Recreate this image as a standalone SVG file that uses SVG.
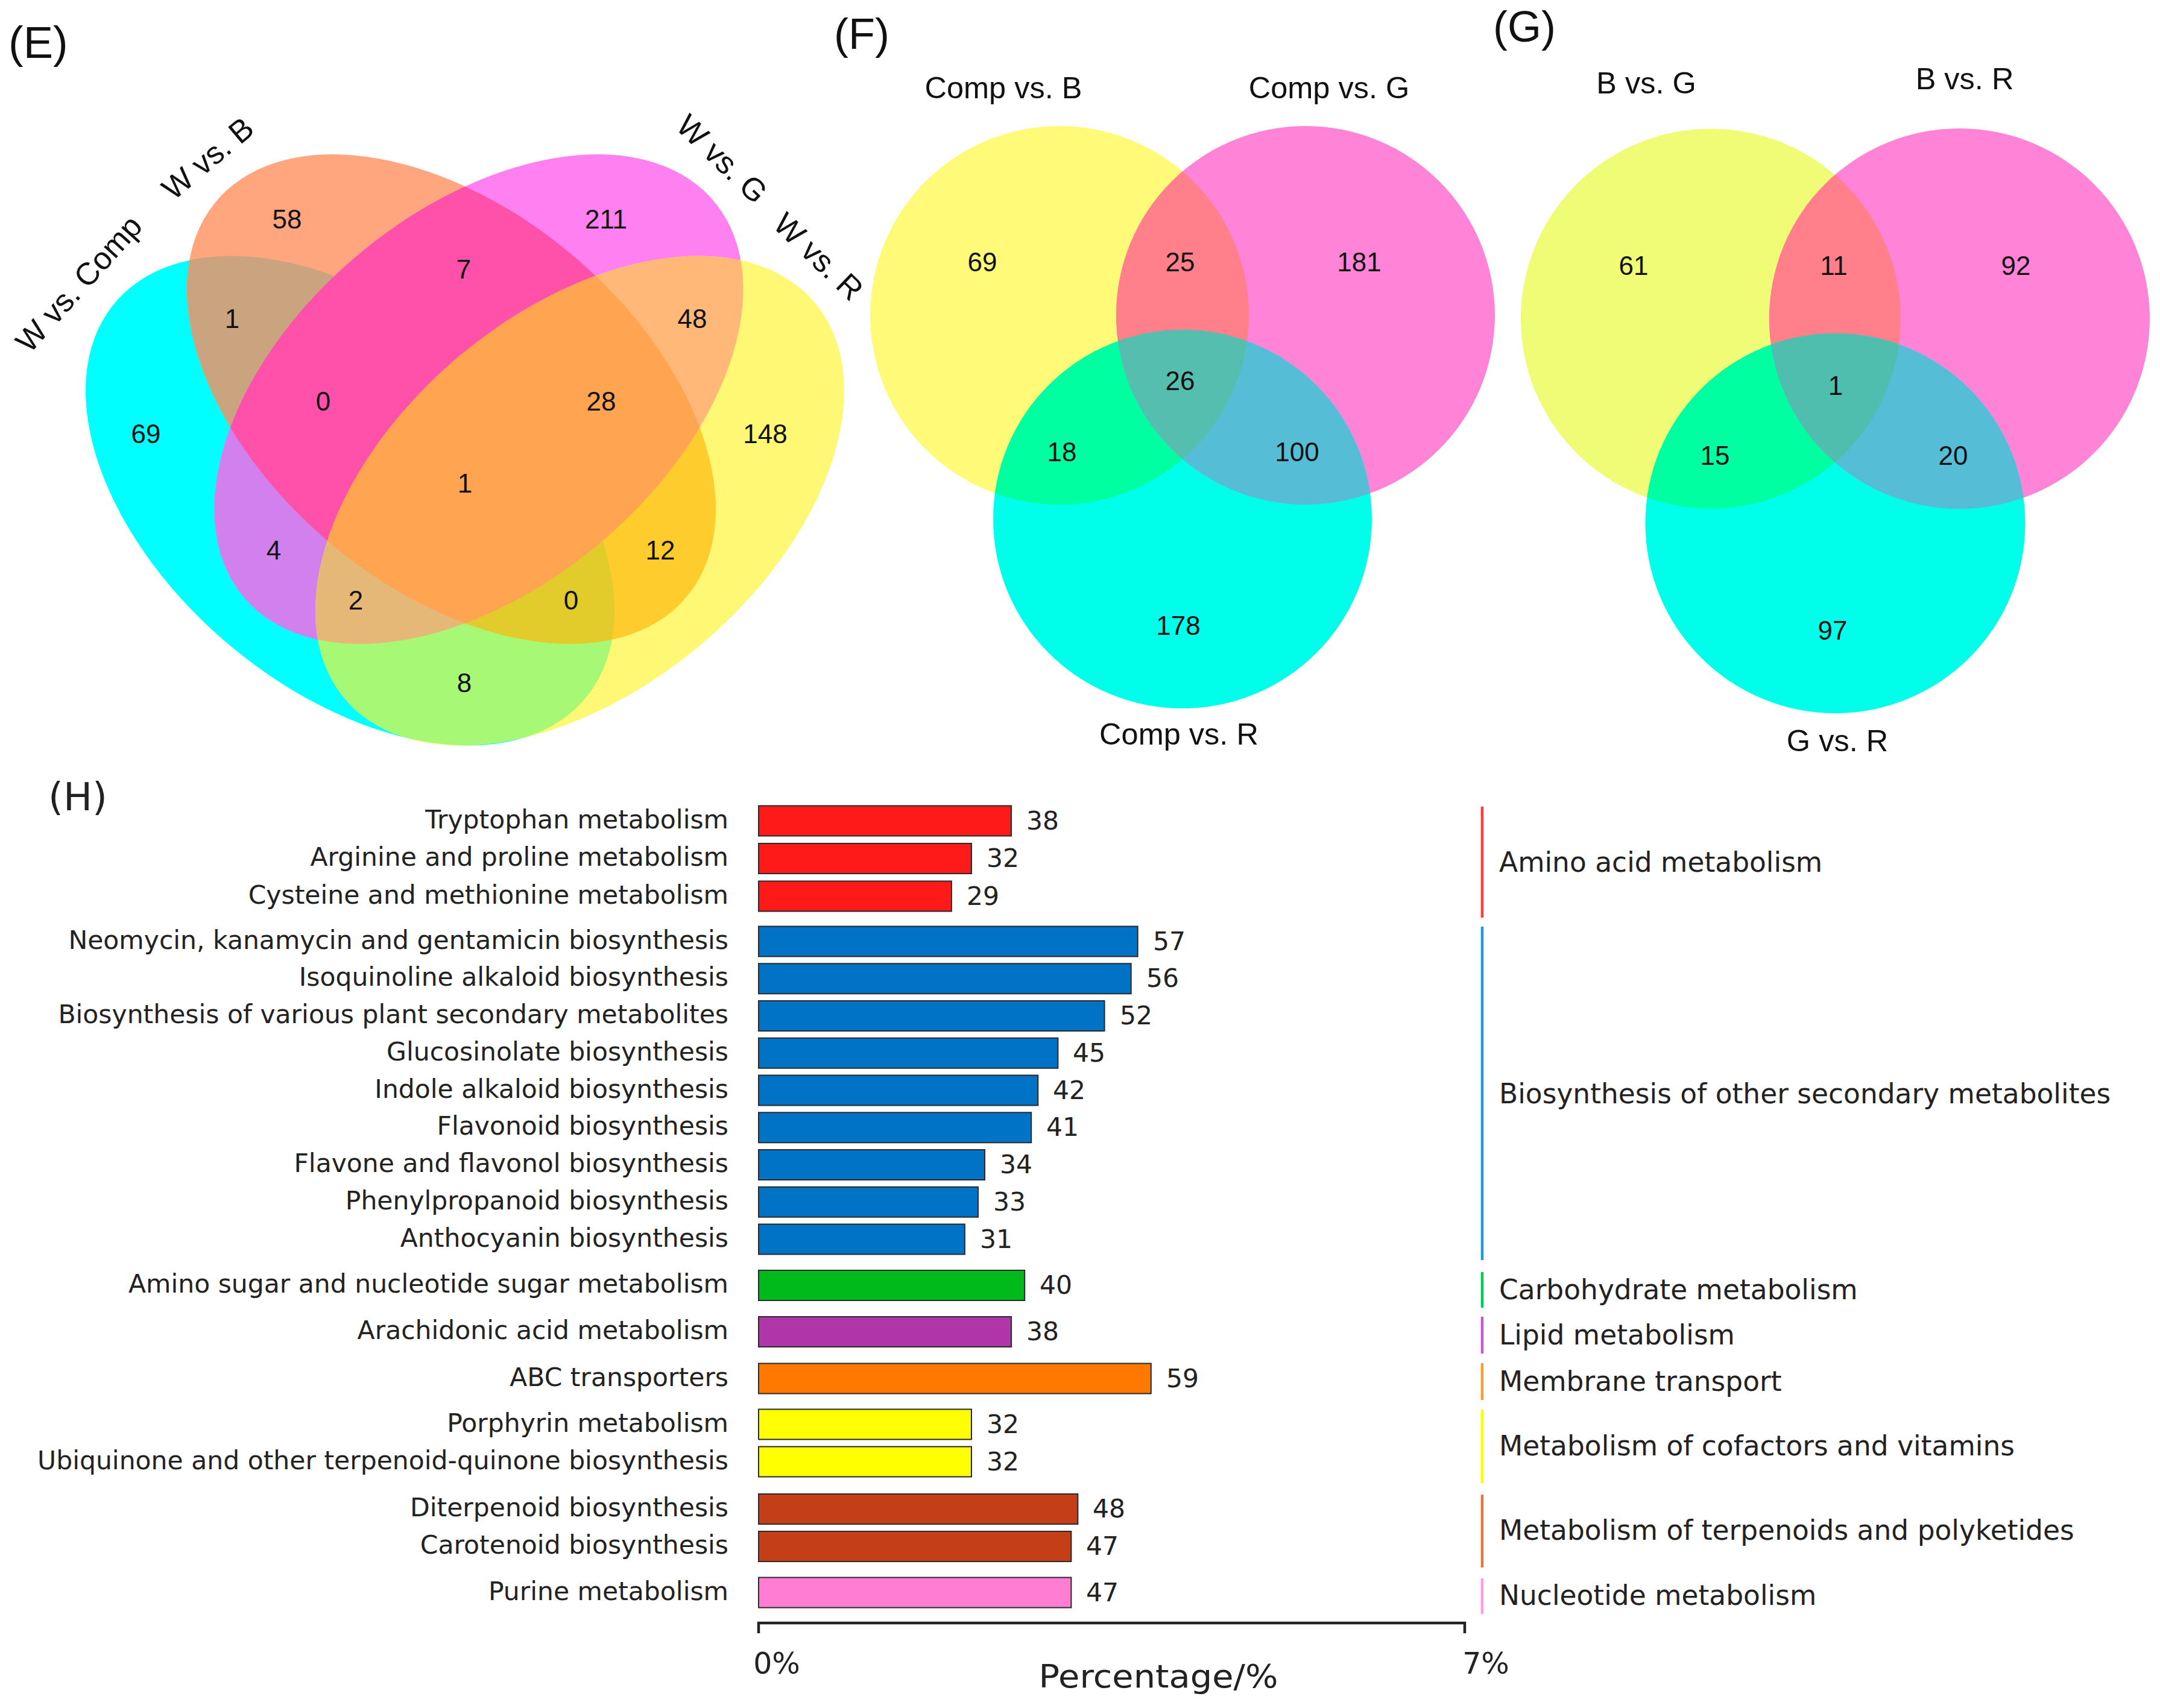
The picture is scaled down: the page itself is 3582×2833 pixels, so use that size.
<svg xmlns="http://www.w3.org/2000/svg" xmlns:xlink="http://www.w3.org/1999/xlink" width="3582" height="2833" viewBox="0 0 3582 2833">
<style>
.ar{font-family:"Liberation Sans",Arial,sans-serif;fill:#111}
.pl{font-size:74px}
.num{font-size:44px;text-anchor:middle}
.elab{font-size:52px;text-anchor:middle}
.vt{font-size:50.5px;text-anchor:middle}
.dj{font-family:"DejaVu Sans",Verdana,sans-serif;fill:#222}
.yl{font-size:42.5px;text-anchor:end}
.val{font-size:42.5px}
.cat{font-size:45.5px}
.tick{font-size:49px;text-anchor:middle}
.bar{stroke:#2a2a2a;stroke-width:2}
.cl{stroke-width:4.5;fill:none}
</style>
<defs>
<ellipse id="eA" rx="1.204" ry="0.742" transform="translate(580.5,830.5) scale(438.5,406) rotate(45)"/>
<ellipse id="eB" rx="1.204" ry="0.742" transform="translate(748.5,662) scale(438.5,406) rotate(45)"/>
<ellipse id="eC" rx="1.204" ry="0.742" transform="translate(794,662) scale(438.5,406) rotate(-45)"/>
<ellipse id="eD" rx="1.204" ry="0.742" transform="translate(961.5,830.5) scale(438.5,406) rotate(-45)"/>
<clipPath id="cA"><ellipse rx="1.204" ry="0.742" transform="translate(580.5,830.5) scale(438.5,406) rotate(45)"/></clipPath>
<clipPath id="cB"><ellipse rx="1.204" ry="0.742" transform="translate(748.5,662) scale(438.5,406) rotate(45)"/></clipPath>
<clipPath id="cC"><ellipse rx="1.204" ry="0.742" transform="translate(794,662) scale(438.5,406) rotate(-45)"/></clipPath>
<circle id="fY" cx="1757" cy="523" r="314"/>
<circle id="fM" cx="2165" cy="523" r="314"/>
<circle id="fC" cx="1961" cy="861" r="314"/>
<clipPath id="cfY"><circle cx="1757" cy="523" r="314"/></clipPath>
<clipPath id="cfM"><circle cx="2165" cy="523" r="314"/></clipPath>
<circle id="gY" cx="2837" cy="528.5" r="315"/>
<circle id="gM" cx="3249.5" cy="528.5" r="315.5"/>
<circle id="gC" cx="3043.5" cy="868" r="315"/>
<clipPath id="cgY"><circle cx="2837" cy="528.5" r="315"/></clipPath>
<clipPath id="cgM"><circle cx="3249.5" cy="528.5" r="315.5"/></clipPath>
</defs>
<rect width="3582" height="2833" fill="#ffffff"/>

<g id="panel-E">
<text class="ar pl" x="14" y="96">(E)</text>
<g id="venn4-shapes">
<use href="#eA" fill="#00FFFF"/>
<use href="#eB" fill="#FFA67E"/>
<use href="#eC" fill="#FF80F0"/>
<use href="#eD" fill="#FFF875"/>
<g clip-path="url(#cA)"><use href="#eB" fill="#C9A47F"/></g>
<g clip-path="url(#cA)"><use href="#eC" fill="#D380EF"/></g>
<g clip-path="url(#cA)"><use href="#eD" fill="#A6F875"/></g>
<g clip-path="url(#cB)"><use href="#eC" fill="#FF50AA"/></g>
<g clip-path="url(#cB)"><use href="#eD" fill="#FFCC2E"/></g>
<g clip-path="url(#cC)"><use href="#eD" fill="#FFB877"/></g>
<g clip-path="url(#cA)"><g clip-path="url(#cB)"><use href="#eC" fill="#FF50AA"/></g></g>
<g clip-path="url(#cA)"><g clip-path="url(#cB)"><use href="#eD" fill="#E1CC2C"/></g></g>
<g clip-path="url(#cA)"><g clip-path="url(#cC)"><use href="#eD" fill="#E6B877"/></g></g>
<g clip-path="url(#cB)"><g clip-path="url(#cC)"><use href="#eD" fill="#FFA450"/></g></g>
<g clip-path="url(#cA)"><g clip-path="url(#cB)"><g clip-path="url(#cC)"><use href="#eD" fill="#FFA450"/></g></g></g>
</g>
<g id="venn4-labels" class="ar">
<text class="elab" transform="translate(130,470) rotate(-48)" dy="0.36em">W vs. Comp</text>
<text class="elab" transform="translate(344,262) rotate(-40)" dy="0.36em">W vs. B</text>
<text class="elab" transform="translate(1198,263) rotate(44)" dy="0.36em">W vs. G</text>
<text class="elab" transform="translate(1358,425) rotate(44)" dy="0.36em">W vs. R</text>
</g>
<g id="venn4-counts" class="ar num">
<text x="476" y="379">58</text>
<text x="1005" y="379">211</text>
<text x="769" y="462">7</text>
<text x="385" y="544">1</text>
<text x="1148" y="544">48</text>
<text x="242" y="735">69</text>
<text x="536" y="681">0</text>
<text x="997" y="681">28</text>
<text x="1269" y="735">148</text>
<text x="771" y="817">1</text>
<text x="454" y="928">4</text>
<text x="1095" y="928">12</text>
<text x="590" y="1011">2</text>
<text x="947" y="1011">0</text>
<text x="770" y="1148">8</text>
</g>
</g>

<g id="panel-F">
<text class="ar" style="font-size:72px" x="1383" y="81">(F)</text>
<g id="venn3F-shapes">
<use href="#fY" fill="#FFFB78"/>
<use href="#fM" fill="#FF83D6"/>
<use href="#fC" fill="#00FFEA"/>
<g clip-path="url(#cfY)"><use href="#fM" fill="#FF808B"/></g>
<g clip-path="url(#cfY)"><use href="#fC" fill="#00FFA0"/></g>
<g clip-path="url(#cfM)"><use href="#fC" fill="#55BED6"/></g>
<g clip-path="url(#cfY)"><g clip-path="url(#cfM)"><use href="#fC" fill="#56BEAF"/></g></g>
</g>
<g id="venn3F-labels" class="ar vt">
<text x="1664" y="163">Comp vs. B</text>
<text x="2204" y="163">Comp vs. G</text>
<text x="1955" y="1235">Comp vs. R</text>
</g>
<g id="venn3F-counts" class="ar num">
<text x="1629" y="450">69</text>
<text x="1957" y="450">25</text>
<text x="2254" y="450">181</text>
<text x="1957" y="647">26</text>
<text x="1761" y="765">18</text>
<text x="2151" y="765">100</text>
<text x="1954" y="1053">178</text>
</g>
</g>

<g id="panel-G">
<text class="ar" style="font-size:72px" x="2476" y="69">(G)</text>
<g id="venn3G-shapes">
<use href="#gY" fill="#F0FC75"/>
<use href="#gM" fill="#FF83D6"/>
<use href="#gC" fill="#00FFEA"/>
<g clip-path="url(#cgY)"><use href="#gM" fill="#FF808B"/></g>
<g clip-path="url(#cgY)"><use href="#gC" fill="#00FFA0"/></g>
<g clip-path="url(#cgM)"><use href="#gC" fill="#55BED6"/></g>
<g clip-path="url(#cgY)"><g clip-path="url(#cgM)"><use href="#gC" fill="#50BEAF"/></g></g>
</g>
<g id="venn3G-labels" class="ar vt">
<text x="2730" y="155">B vs. G</text>
<text x="3258" y="148">B vs. R</text>
<text x="3047" y="1246">G vs. R</text>
</g>
<g id="venn3G-counts" class="ar num">
<text x="2709" y="456">61</text>
<text x="3041" y="456">11</text>
<text x="3343" y="456">92</text>
<text x="3044" y="655">1</text>
<text x="2844" y="771">15</text>
<text x="3239" y="771">20</text>
<text x="3039" y="1061">97</text>
</g>
</g>

<g id="panel-H">
<text class="dj" style="font-size:64px" x="80" y="1344">(H)</text>
<g id="bars">
<rect class="bar" x="1258" y="1336.5" width="419.1" height="50" fill="#FF1A1A"/>
<rect class="bar" x="1258" y="1399" width="353" height="50" fill="#FF1A1A"/>
<rect class="bar" x="1258" y="1461.5" width="319.9" height="50" fill="#FF1A1A"/>
<rect class="bar" x="1258" y="1536.5" width="628.7" height="50" fill="#0073C6"/>
<rect class="bar" x="1258" y="1598.25" width="617.7" height="50" fill="#0073C6"/>
<rect class="bar" x="1258" y="1660" width="573.6" height="50" fill="#0073C6"/>
<rect class="bar" x="1258" y="1721.75" width="496.4" height="50" fill="#0073C6"/>
<rect class="bar" x="1258" y="1783.5" width="463.3" height="50" fill="#0073C6"/>
<rect class="bar" x="1258" y="1845.25" width="452.2" height="50" fill="#0073C6"/>
<rect class="bar" x="1258" y="1907" width="375" height="50" fill="#0073C6"/>
<rect class="bar" x="1258" y="1968.75" width="364" height="50" fill="#0073C6"/>
<rect class="bar" x="1258" y="2030.5" width="341.9" height="50" fill="#0073C6"/>
<rect class="bar" x="1258" y="2107" width="441.2" height="50" fill="#00BA1C"/>
<rect class="bar" x="1258" y="2184" width="419.1" height="50" fill="#AF35A8"/>
<rect class="bar" x="1258" y="2261.5" width="650.8" height="50" fill="#FF7800"/>
<rect class="bar" x="1258" y="2337.5" width="353" height="50" fill="#FFFF00"/>
<rect class="bar" x="1258" y="2399.5" width="353" height="50" fill="#FFFF00"/>
<rect class="bar" x="1258" y="2478" width="529.4" height="50" fill="#C43E17"/>
<rect class="bar" x="1258" y="2540" width="518.4" height="50" fill="#C43E17"/>
<rect class="bar" x="1258" y="2616.5" width="518.4" height="50" fill="#FF7DD2"/>
</g>
<g id="bar-labels" class="dj yl">
<text x="1208" y="1373.5">Tryptophan metabolism</text>
<text x="1208" y="1436">Arginine and proline metabolism</text>
<text x="1208" y="1498.5">Cysteine and methionine metabolism</text>
<text x="1208" y="1573.5">Neomycin, kanamycin and gentamicin biosynthesis</text>
<text x="1208" y="1635.25">Isoquinoline alkaloid biosynthesis</text>
<text x="1208" y="1697">Biosynthesis of various plant secondary metabolites</text>
<text x="1208" y="1758.75">Glucosinolate biosynthesis</text>
<text x="1208" y="1820.5">Indole alkaloid biosynthesis</text>
<text x="1208" y="1882.25">Flavonoid biosynthesis</text>
<text x="1208" y="1944">Flavone and flavonol biosynthesis</text>
<text x="1208" y="2005.75">Phenylpropanoid biosynthesis</text>
<text x="1208" y="2067.5">Anthocyanin biosynthesis</text>
<text x="1208" y="2144">Amino sugar and nucleotide sugar metabolism</text>
<text x="1208" y="2221">Arachidonic acid metabolism</text>
<text x="1208" y="2298.5">ABC transporters</text>
<text x="1208" y="2374.5">Porphyrin metabolism</text>
<text x="1208" y="2436.5">Ubiquinone and other terpenoid-quinone biosynthesis</text>
<text x="1208" y="2515">Diterpenoid biosynthesis</text>
<text x="1208" y="2577">Carotenoid biosynthesis</text>
<text x="1208" y="2653.5">Purine metabolism</text>
</g>
<g id="bar-values" class="dj val">
<text x="1702" y="1375.5">38</text>
<text x="1636" y="1438">32</text>
<text x="1603" y="1500.5">29</text>
<text x="1912" y="1575.5">57</text>
<text x="1901" y="1637.25">56</text>
<text x="1857" y="1699">52</text>
<text x="1779" y="1760.75">45</text>
<text x="1746" y="1822.5">42</text>
<text x="1735" y="1884.25">41</text>
<text x="1658" y="1946">34</text>
<text x="1647" y="2007.75">33</text>
<text x="1625" y="2069.5">31</text>
<text x="1724" y="2146">40</text>
<text x="1702" y="2223">38</text>
<text x="1934" y="2300.5">59</text>
<text x="1636" y="2376.5">32</text>
<text x="1636" y="2438.5">32</text>
<text x="1812" y="2517">48</text>
<text x="1801" y="2579">47</text>
<text x="1801" y="2655.5">47</text>
</g>
<g id="axis">
<path d="M1258,2709 V2692 H2429 V2709" fill="none" stroke="#222" stroke-width="4.5"/>
<text class="dj tick" x="1288" y="2776">0%</text>
<text class="dj tick" x="2464" y="2776">7%</text>
<text class="dj" style="font-size:54px;text-anchor:middle" x="1921" y="2799" textLength="397" lengthAdjust="spacingAndGlyphs">Percentage/%</text>
</g>
<g id="categories">
<line class="cl" x1="2458" y1="1338" x2="2458" y2="1522" stroke="#FF3B3B"/>
<line class="cl" x1="2458" y1="1537" x2="2458" y2="2090" stroke="#1A9BE2"/>
<line class="cl" x1="2458" y1="2110" x2="2458" y2="2169" stroke="#00C957"/>
<line class="cl" x1="2458" y1="2184" x2="2458" y2="2245" stroke="#CC55DD"/>
<line class="cl" x1="2458" y1="2261" x2="2458" y2="2322" stroke="#FF9933"/>
<line class="cl" x1="2458" y1="2338" x2="2458" y2="2460" stroke="#FFFF00"/>
<line class="cl" x1="2458" y1="2479" x2="2458" y2="2600" stroke="#E8773F"/>
<line class="cl" x1="2458" y1="2618" x2="2458" y2="2677" stroke="#FF9CE2"/>
<g class="dj cat">
<text x="2486" y="1446">Amino acid metabolism</text>
<text x="2486" y="1830">Biosynthesis of other secondary metabolites</text>
<text x="2486" y="2155">Carbohydrate metabolism</text>
<text x="2486" y="2230">Lipid metabolism</text>
<text x="2486" y="2307">Membrane transport</text>
<text x="2486" y="2414">Metabolism of cofactors and vitamins</text>
<text x="2486" y="2554">Metabolism of terpenoids and polyketides</text>
<text x="2486" y="2662">Nucleotide metabolism</text>
</g>
</g>
</g>
</svg>
